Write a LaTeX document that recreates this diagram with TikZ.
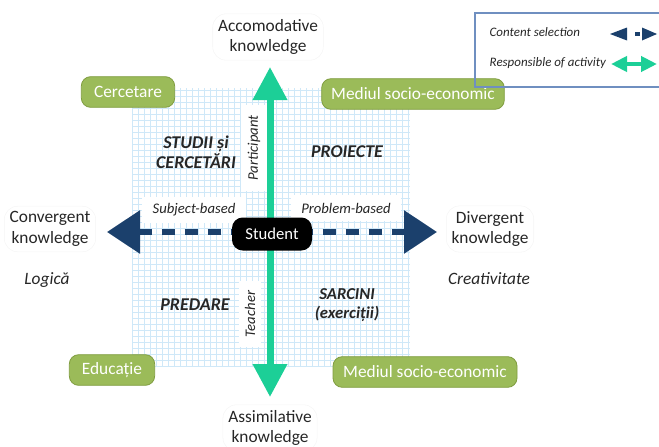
\documentclass[tikz,border=0pt]{standalone}
\usepackage{fontspec}
\setmainfont{Carlito}
\usetikzlibrary{arrows.meta}
\definecolor{dblue}{HTML}{1B406C}
\definecolor{vgreen}{HTML}{1CCF97}
\definecolor{olive}{HTML}{9BBB59}
\definecolor{olivedk}{HTML}{7F9C3F}
\definecolor{gridc}{HTML}{CFE8F8}
\definecolor{legc}{HTML}{6F8FC0}
\definecolor{txt}{HTML}{262626}
\tikzset{
  axislabel/.style={align=center, text=txt, font=\fontsize{13}{15.5}\selectfont,
    draw=black!4, rounded corners=10pt, inner sep=4pt},
  sidenote/.style={text=txt, font=\fontsize{13}{15}\selectfont\itshape},
  greenbox/.style={fill=olive, draw=olivedk, line width=0.6pt, rounded corners=7pt,
    text=white, font=\fontsize{13}{15}\selectfont, minimum height=23pt, inner sep=0pt},
  quad/.style={align=center, text=txt, font=\fontsize{13.5}{15}\selectfont\bfseries\itshape},
  smalllab/.style={fill=white, text=txt, font=\fontsize{11}{12}\selectfont\itshape, inner sep=0pt},
  legtext/.style={anchor=west, text=txt, font=\fontsize{9.7}{11}\selectfont\itshape},
  studentbox/.style={fill=black, rounded corners=8pt, text=white,
    font=\fontsize{12.5}{14}\selectfont, minimum width=60pt, minimum height=24.75pt, inner sep=0pt},
}
\begin{document}
\begin{tikzpicture}[x=0.75pt,y=-0.75pt]
\useasboundingbox (0,0) rectangle (659,446);
% grid background
\draw[gridc, line width=0.45pt, step=4.5pt] (132,88) grid (410,367);

% white label backgrounds (rotated)
\node[smalllab, rotate=90, minimum width=64pt, minimum height=19pt] (part) at (254,148) {Participant};
\node[smalllab, rotate=90, minimum width=50pt, minimum height=17pt] (teach) at (250,314) {Teacher};
\node[smalllab, minimum width=78pt, minimum height=19pt] (subj) at (194,210) {Subject-based};
\node[smalllab, minimum width=82pt, minimum height=19pt] (prob) at (346,208) {Problem-based};

% axis labels
\node[axislabel] (acc) at (268,37) {Accomodative\\knowledge};
\node[axislabel] (ass) at (270,428) {Assimilative\\knowledge};
\node[axislabel] (conv) at (50,229) {Convergent\\knowledge};
\node[axislabel] (div) at (490,229) {Divergent\\knowledge};
\node[sidenote] (log) at (47,280) {Logică};
\node[sidenote] (crea) at (489,279) {Creativitate};

% arrows
\coordinate (vt) at (270,67);
\coordinate (vb) at (270,397);
\coordinate (hl) at (107,232);
\coordinate (hr) at (437,232);
\draw[vgreen, line width=5.25pt,
  {Triangle[width=24.75pt,length=24.75pt]}-{Triangle[width=24.75pt,length=24.75pt]}] (vt) -- (vb);
\draw[dblue, line width=4.5pt, dash pattern=on 9.75pt off 7.5pt,
  {Triangle[width=31.5pt,length=24.75pt]}-{Triangle[width=31.5pt,length=24.75pt]}] (hl) -- (hr);

\node[studentbox] (stu) at (272,234) {Student};

% green boxes
\node[greenbox, minimum width=70pt] (cer) at (128,92) {Cercetare};
\node[greenbox, minimum width=137pt] (med1) at (413,94) {Mediul socio-economic};
\node[greenbox, minimum width=64pt] (edu) at (112,370) {Educație};
\node[greenbox, minimum width=138pt] (med2) at (425,372) {Mediul socio-economic};

% quadrant texts
\node[quad] (stud) at (196,152) {STUDII și\\CERCETĂRI};
\node[quad] (proi) at (347,152) {PROIECTE};
\node[quad] (pred) at (195,305) {PREDARE};
\node[quad, font=\fontsize{12.5}{14}\selectfont\bfseries\itshape] (sarc) at (347,305) {SARCINI\\(exerciții)};

% legend
\draw[legc, line width=0.8pt] (475,13) rectangle (668,87);
\node[legtext] (lcs) at (485,32) {Content selection};
\node[legtext] (lra) at (485,63) {Responsible of activity};
\fill[dblue] (610,34) -- (627,27.5) -- (627,40.5) -- cycle;
\fill[dblue] (657,34) -- (642,27.5) -- (642,40.5) -- cycle;
\draw[dblue, line width=3pt] (635,34) -- (640,34);
\draw[vgreen, line width=3pt,
  {Triangle[width=11.25pt,length=12pt]}-{Triangle[width=11.25pt,length=12pt]}] (611,64) -- (657,64);
\end{tikzpicture}
\end{document}
